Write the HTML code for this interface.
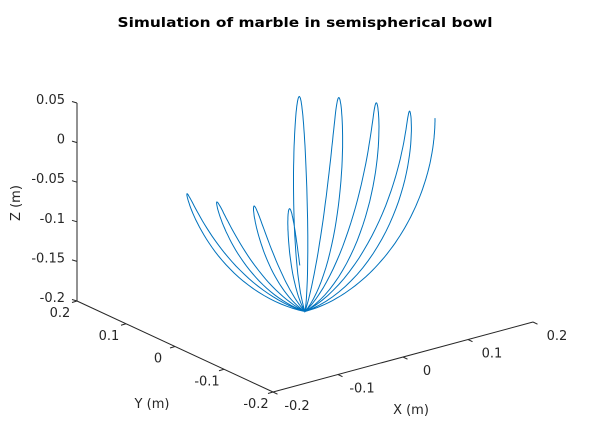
<!DOCTYPE html>
<html><head><meta charset="utf-8"><style>
html,body{margin:0;padding:0;background:#fff;}
svg{display:block;font-family:"DejaVu Sans","Liberation Sans",sans-serif;}
</style></head><body>
<svg id="chart" width="589" height="441" viewBox="0 0 589 441">
<text x="305" y="27" text-anchor="middle" font-weight="bold" font-size="13.5" fill="#000" textLength="375" lengthAdjust="spacingAndGlyphs">Simulation of marble in semispherical bowl</text>
<g id="axes"></g>
<g id="plot"></g>
</svg>
<script>
// Tick values
const zTicks = [0.05, 0, -0.05, -0.1, -0.15, -0.2];
const zTickLabels = ["0.05", "0", "-0.05", "-0.1", "-0.15", "-0.2"];
const xyTicks = [-0.2, -0.1, 0, 0.1, 0.2];
const xyTickLabels = ["-0.2", "-0.1", "0", "0.1", "0.2"];
// Trajectory data: swing peaks (azimuth in degrees, peak height in m)
const petalAzimuthDeg = [0, 13, 27, 41, 55, 107, 93, 76, 60];
const petalPeakZ = [0.0, -0.003, -0.002, -0.001, -0.001, -0.089, -0.108, -0.12, -0.126];
const bowlRadius = 0.2;
const lastPetalFraction = 0.82;

const NS = "http://www.w3.org/2000/svg";
function proj(x, y, z) {
  const u = (x + 0.2) / 0.4, v = (y + 0.2) / 0.4;
  return [273 + u * 260 - v * 196, 392 - u * 70 - v * 91 - (z + 0.2) * 792];
}
function mk(tag, attrs, parent) {
  const e = document.createElementNS(NS, tag);
  for (const k in attrs) e.setAttribute(k, attrs[k]);
  parent.appendChild(e);
  return e;
}
const axes = document.getElementById('axes');
const plot = document.getElementById('plot');
const ax = "#262626";

const zt = proj(-0.2, 0.2, 0.05), zb = proj(-0.2, 0.2, -0.2), c0 = proj(-0.2, -0.2, -0.2), xe = proj(0.2, -0.2, -0.2);
let l = mk('line', {x1: zt[0], y1: zt[1], x2: zb[0], y2: zb[1], stroke: ax, 'stroke-width': 1}, axes);


l = mk('line', {x1: zb[0], y1: zb[1], x2: c0[0], y2: c0[1], stroke: ax, 'stroke-width': 1}, axes);


l = mk('line', {x1: c0[0], y1: c0[1], x2: xe[0], y2: xe[1], stroke: ax, 'stroke-width': 1}, axes);



zTicks.forEach((t, i) => {
  const p = proj(-0.2, 0.2, t);
  const tk = mk('line', {x1: p[0], y1: p[1], x2: p[0] - 5, y2: p[1] - 1.5, stroke: ax}, axes);
  
  
  const tx = mk('text', {x: p[0] - 12, y: p[1] + 1, 'text-anchor': 'end', 'font-size': 13, fill: ax}, axes);
  tx.textContent = zTickLabels[i];
  
  
});
xyTicks.forEach((t, i) => {
  const p = proj(-0.2, t, -0.2);
  const tk = mk('line', {x1: p[0], y1: p[1], x2: p[0] - 5, y2: p[1] + 1.5, stroke: ax}, axes);
  
  
  const tx = mk('text', {x: p[0] - 17, y: p[1] + 16, 'text-anchor': 'middle', 'font-size': 13, fill: ax}, axes);
  tx.textContent = xyTickLabels[i];
  
  
});
xyTicks.forEach((t, i) => {
  const p = proj(t, -0.2, -0.2);
  const tk = mk('line', {x1: p[0], y1: p[1], x2: p[0] + 4.5, y2: p[1] + 2.2, stroke: ax}, axes);
  
  
  const tx = mk('text', {x: p[0] + 24, y: p[1] + 18, 'text-anchor': 'middle', 'font-size': 13, fill: ax}, axes);
  tx.textContent = xyTickLabels[i];
  
  
});
let t = mk('text', {x: 411, y: 414, 'text-anchor': 'middle', 'font-size': 13, fill: ax}, axes);
t.textContent = 'X (m)';


t = mk('text', {x: 152, y: 408, 'text-anchor': 'middle', 'font-size': 13, fill: ax}, axes);
t.textContent = 'Y (m)';


t = mk('text', {x: 20, y: 203, 'text-anchor': 'middle', 'font-size': 13, fill: ax, transform: 'rotate(-90 20 203)'}, axes);
t.textContent = 'Z (m)';



const pts = [];
function sph(theta, phi) {
  return proj(bowlRadius * Math.sin(theta) * Math.cos(phi), bowlRadius * Math.sin(theta) * Math.sin(phi), -bowlRadius * Math.cos(theta));
}
const d2r = Math.PI / 180, delta = 5 * d2r, N = 80;
petalAzimuthDeg.forEach((az, i) => {
  const th = Math.acos(Math.max(-1, Math.min(1, -petalPeakZ[i] / bowlRadius)));
  const phi = az * d2r;
  if (i === 0) {
    for (let k = 0; k <= N; k++) { const s = k / N; pts.push(sph(th * Math.cos(s * Math.PI / 2), phi)); }
    return;
  }
  const end = i === petalAzimuthDeg.length - 1 ? lastPetalFraction : 1;
  for (let k = 1; k <= N * end; k++) {
    const s = k / N;
    pts.push(sph(th * Math.sin(Math.PI * s), phi + delta * (1 - 2 * s)));
  }
});
const path = mk('polyline', {points: pts.map(p => p[0].toFixed(1) + ',' + p[1].toFixed(1)).join(' '), fill: 'none', stroke: '#0072BD', 'stroke-width': 1}, plot);


</script>
</body></html>
